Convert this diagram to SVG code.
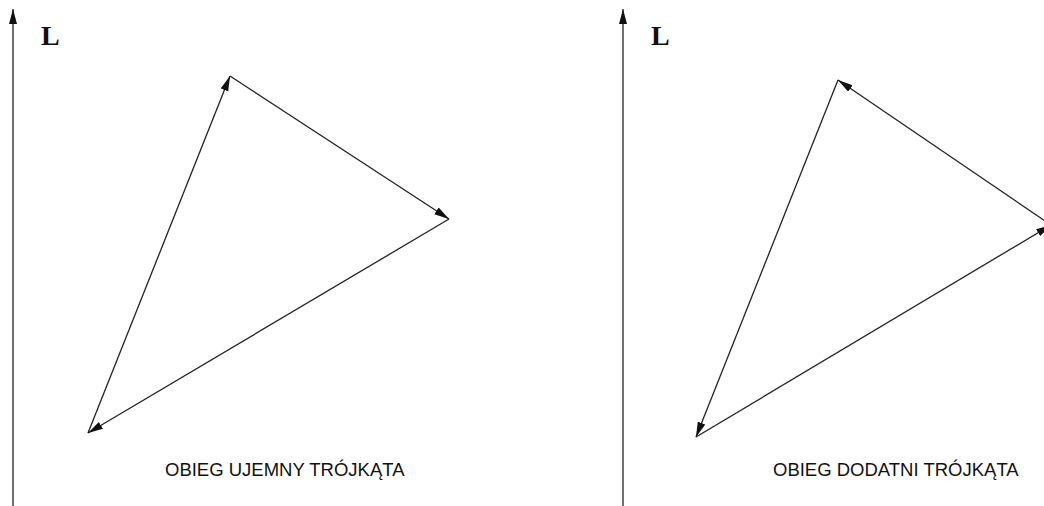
<svg xmlns="http://www.w3.org/2000/svg" width="1044" height="506" viewBox="0 0 1044 506">
<style>
.ln{stroke:#222;stroke-width:1.3;fill:none}
.lbl{font-family:"Liberation Serif","Times New Roman",serif;font-weight:bold;font-size:28px;fill:#111}
.cap{font-family:"Liberation Sans",Arial,sans-serif;font-size:18.5px;fill:#111}
</style>
<defs>
<marker id="ah" markerUnits="userSpaceOnUse" markerWidth="16" markerHeight="9" refX="15" refY="4" orient="auto">
<path d="M0,0 L15,4 L0,8 z" fill="#111"/>
</marker>
</defs>
<rect width="1044" height="506" fill="#fff"/>
<g id="axis-left">
<line class="ln" x1="13" y1="506" x2="13" y2="9" marker-end="url(#ah)"/>
<text class="lbl" x="41" y="45">L</text>
</g>
<g id="axis-right">
<line class="ln" x1="623" y1="506" x2="623" y2="9" marker-end="url(#ah)"/>
<text class="lbl" x="651" y="45">L</text>
</g>
<g id="connectors">
<line class="ln" x1="88" y1="433" x2="230" y2="76" marker-end="url(#ah)"/>
<line class="ln" x1="230" y1="76" x2="449" y2="219" marker-end="url(#ah)"/>
<line class="ln" x1="449" y1="219" x2="88" y2="433" marker-end="url(#ah)"/>
<line class="ln" x1="1051" y1="225" x2="838" y2="80" marker-end="url(#ah)"/>
<line class="ln" x1="838" y1="80" x2="696" y2="437" marker-end="url(#ah)"/>
<line class="ln" x1="696" y1="437" x2="1051" y2="225" marker-end="url(#ah)"/>
</g>
<g id="caption-left">
<text class="cap" x="165" y="476">OBIEG UJEMNY TRÓJKĄTA</text>
</g>
<g id="caption-right">
<text class="cap" x="773" y="476">OBIEG DODATNI TRÓJKĄTA</text>
</g>
</svg>
